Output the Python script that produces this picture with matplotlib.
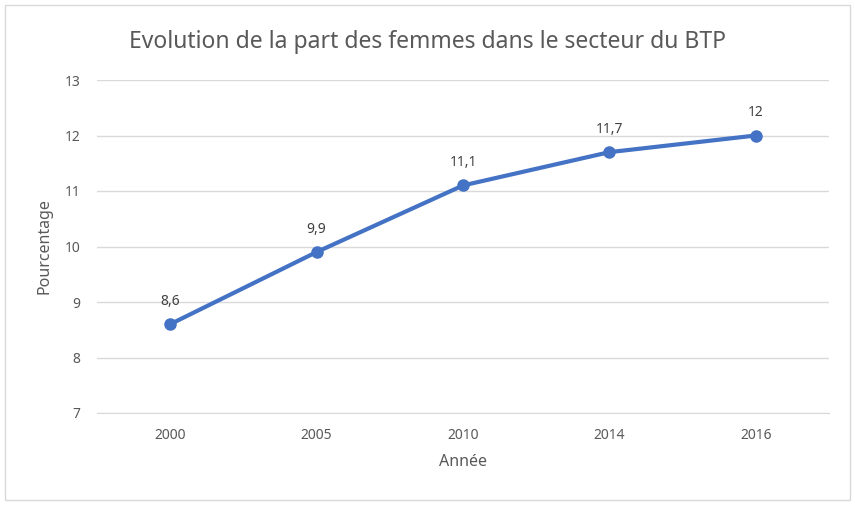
import matplotlib
matplotlib.use("Agg")
import matplotlib.pyplot as plt
from matplotlib.patches import Rectangle

years = ["2000", "2005", "2010", "2014", "2016"]
values = [8.6, 9.9, 11.1, 11.7, 12.0]
labels = ["8,6", "9,9", "11,1", "11,7", "12"]
yticks = [7, 8, 9, 10, 11, 12, 13]

plt.rcParams['font.family'] = ['Noto Sans', 'DejaVu Sans']

fig = plt.figure(figsize=(8.55, 5.07), dpi=100)
W, H = 855, 507
fig.patches.append(Rectangle((5 / W, 1 - 500 / H), 845 / W, 495 / H, transform=fig.transFigure,
                             fill=False, edgecolor="#d9d9d9", linewidth=1))

left, right, top, bottom = 97, 829, 80, 413
ax = fig.add_axes([left / W, 1 - bottom / H, (right - left) / W, (bottom - top) / H])
x = list(range(len(years)))
ax.plot(x, values, color="#4472C4", linewidth=3, marker="o", markersize=8, zorder=3)
for xi, v, lab in zip(x, values, labels):
    ax.annotate(lab, (xi, v), xytext=(0, 11), textcoords="offset points", ha="center", va="bottom",
                fontsize=10, color="#404040")

ax.set_xlim(-0.5, len(years) - 0.5)
ax.set_ylim(7, 13)
ax.set_yticks(yticks)
ax.set_xticks(x)
ax.set_xticklabels(years)
ax.grid(axis="y", color="#d9d9d9", linewidth=1)
ax.set_axisbelow(True)
for s in ["top", "right", "left"]:
    ax.spines[s].set_visible(False)
ax.spines["bottom"].set_color("#d9d9d9")
ax.tick_params(axis="both", length=0, labelsize=10, labelcolor="#595959")
ax.tick_params(axis="x", pad=11)
ax.tick_params(axis="y", pad=12)
ax.set_xlabel("Année", fontsize=11.5, color="#595959", labelpad=8)
ax.set_ylabel("Pourcentage", fontsize=11.5, color="#595959", labelpad=9)
fig.text(0.5, 1 - 42 / H, "Evolution de la part des femmes dans le secteur du BTP", ha="center", va="center",
         fontsize=16.5, color="#595959")

fig.savefig("out.png", dpi=100)
